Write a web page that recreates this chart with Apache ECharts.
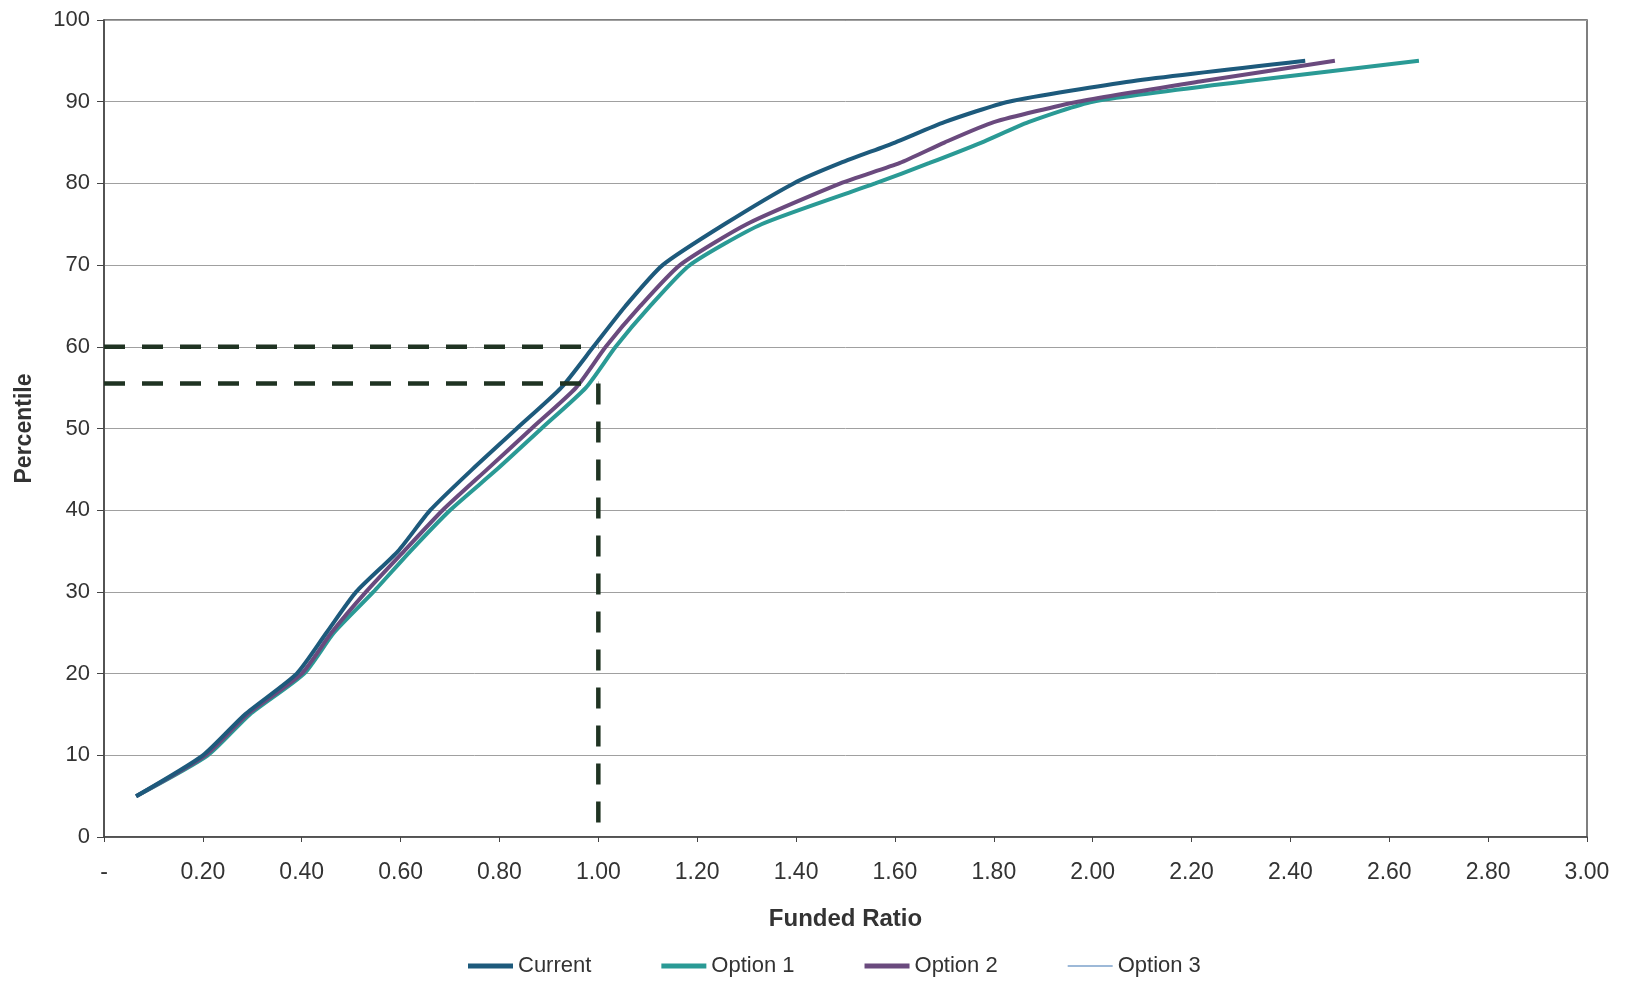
<!DOCTYPE html>
<html>
<head>
<meta charset="utf-8">
<script src="https://cdn.jsdelivr.net/npm/echarts@6/dist/echarts.min.js"></script>
<style>
  html, body { margin: 0; padding: 0; background: #ffffff; }
  #chart { width: 1626px; height: 985px; }
</style>
</head>
<body>
<div id="chart"></div>
<script>
// Percentile levels (y values) shared by all series
const percentiles = [5, 10, 15, 20, 25, 30, 35, 40, 45, 50, 55, 60, 65, 70, 75, 80, 82.5, 85, 87.5, 90, 92.5, 95];
// Funded ratio (x values) read for each series at those percentiles
const currentRatio = [0.065, 0.20, 0.285, 0.39, 0.45, 0.51, 0.595, 0.66, 0.745, 0.835, 0.925, 0.99, 1.055, 1.13, 1.255, 1.395, 1.49, 1.60, 1.70, 1.83, 2.08, 2.43];
const option1Ratio = [0.065, 0.21, 0.295, 0.405, 0.465, 0.545, 0.62, 0.70, 0.795, 0.885, 0.975, 1.035, 1.105, 1.185, 1.33, 1.56, 1.67, 1.775, 1.87, 2.00, 2.31, 2.66];
const option2Ratio = [0.065, 0.205, 0.29, 0.40, 0.46, 0.53, 0.607, 0.685, 0.775, 0.865, 0.955, 1.015, 1.085, 1.165, 1.30, 1.49, 1.61, 1.70, 1.80, 1.97, 2.22, 2.49];
const option3Ratio = [0.065, 0.21, 0.295, 0.405, 0.465, 0.545, 0.62, 0.70, 0.795, 0.885, 0.975, 1.035, 1.105, 1.185, 1.33, 1.56, 1.67, 1.775, 1.87, 2.00, 2.31, 2.66];
const seriesNames = ['Current', 'Option 1', 'Option 2', 'Option 3'];

// Reference guide lines
const guideRatio = 1.0;
const guidePercentiles = [60, 55.5];

// Axis settings
const xMin = 0, xMax = 3, xStep = 0.2;
const yMin = 0, yMax = 100, yStep = 10;

const toPairs = (xs) => xs.map((x, i) => [x, percentiles[i]]);

const font = 'Liberation Sans, Arial, sans-serif';
const dashStyle = { color: '#1f3322', width: 4.5, type: [21, 17] };
const thinIcon = 'path://M0,0L45,0L45,0.02L0,0.02Z M0,1.8L45,1.8L45,3.2L0,3.2Z M0,4.98L45,4.98L45,5L0,5Z';

const chart = echarts.init(document.getElementById('chart'), null, { renderer: 'canvas' });

const lineSeries = (name, data, color, width, z) => ({
  name, type: 'line', data: toPairs(data),
  showSymbol: false, symbol: 'none', smooth: 0.2,
  lineStyle: { color, width }, itemStyle: { color }, z
});

const option = {
  animation: false,
  backgroundColor: '#ffffff',
  grid: {
    left: 104, right: 39, top: 20, bottom: 148,
    show: true, borderColor: '#555555', borderWidth: 1.5, backgroundColor: 'transparent'
  },
  legend: {
    data: [
      { name: seriesNames[0], icon: 'rect' },
      { name: seriesNames[1], icon: 'rect' },
      { name: seriesNames[2], icon: 'rect' },
      { name: seriesNames[3], icon: thinIcon }
    ],
    bottom: 3,
    left: 463,
    itemWidth: 45,
    itemHeight: 5,
    itemGap: 70,
    textStyle: { fontFamily: font, fontSize: 22, color: '#333333' }
  },
  xAxis: {
    type: 'value',
    min: xMin, max: xMax, interval: xStep,
    name: 'Funded Ratio',
    nameLocation: 'middle',
    nameGap: 70,
    nameTextStyle: { fontFamily: font, fontSize: 24, fontWeight: 'bold', color: '#333333' },
    axisLine: { show: true, onZero: false, lineStyle: { color: '#444444', width: 1.5 } },
    axisTick: { show: true, length: 5, lineStyle: { color: '#444444' } },
    axisLabel: {
      fontFamily: font, fontSize: 23, color: '#333333', margin: 24,
      formatter: (v) => (v === 0 ? '-' : v.toFixed(2))
    },
    splitLine: { show: false }
  },
  yAxis: {
    type: 'value',
    min: yMin, max: yMax, interval: yStep,
    name: 'Percentile',
    nameLocation: 'middle',
    nameGap: 68,
    nameTextStyle: { fontFamily: font, fontSize: 23, fontWeight: 'bold', color: '#333333' },
    axisLine: { show: true, lineStyle: { color: '#444444', width: 1.5 } },
    axisTick: { show: true, length: 7, lineStyle: { color: '#444444' } },
    axisLabel: { fontFamily: font, fontSize: 22, color: '#333333', margin: 14 },
    splitLine: { show: true, lineStyle: { color: '#a0a0a0', width: 1 } }
  },
  series: [
    lineSeries('Option 3', option3Ratio, '#7da3cc', 1.5, 1),
    lineSeries('Option 1', option1Ratio, '#2a9a95', 4, 2),
    lineSeries('Option 2', option2Ratio, '#6a4a7e', 4, 3),
    lineSeries('Current', currentRatio, '#1d5a7c', 4, 4),
    {
      name: 'guide60', type: 'line', data: [[xMin, guidePercentiles[0]], [guideRatio, guidePercentiles[0]]],
      showSymbol: false, symbol: 'none', lineStyle: dashStyle, z: 5, silent: true
    },
    {
      name: 'guide55', type: 'line', data: [[xMin, guidePercentiles[1]], [guideRatio, guidePercentiles[1]]],
      showSymbol: false, symbol: 'none', lineStyle: dashStyle, z: 5, silent: true
    },
    {
      name: 'guideV', type: 'line', data: [[guideRatio, guidePercentiles[1]], [guideRatio, yMin]],
      showSymbol: false, symbol: 'none', lineStyle: dashStyle, z: 5, silent: true
    }
  ]
};

chart.setOption(option);
</script>
</body>
</html>
